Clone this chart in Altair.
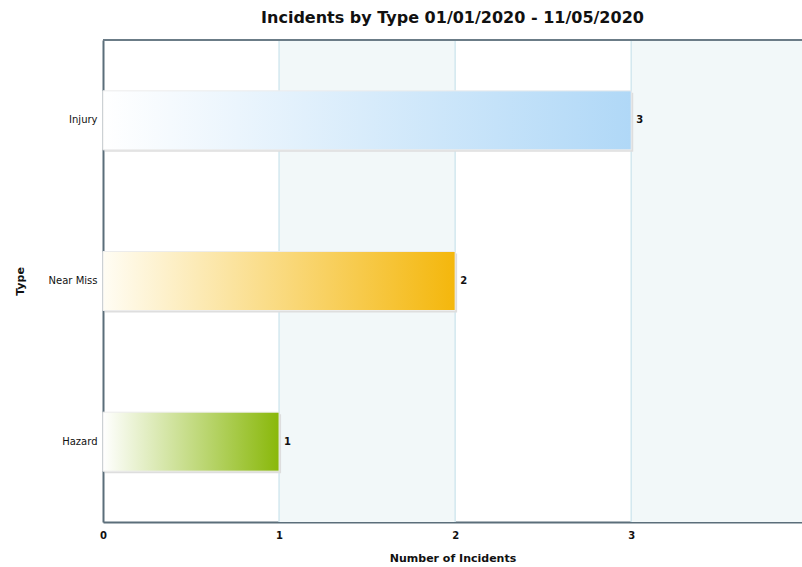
import altair as alt
import pandas as pd

# ---- data ----
types = ["Injury", "Near Miss", "Hazard"]
counts = [3, 2, 1]
grad_start = ["#ffffff", "#fffdf4", "#ffffff"]
grad_end = ["#b0d8f7", "#f4b70c", "#89b80a"]
tick_values = [0, 1, 2, 3]
band_starts = [1, 3]
band_ends = [2, 4]
grid_values = [1, 2, 3]

FONT = "DejaVu Sans"
PLOT_W, PLOT_H = 699, 482

df = pd.DataFrame({"Type": types, "Count": counts})
bands = pd.DataFrame({"start": band_starts, "end": band_ends})
grid = pd.DataFrame({"v": grid_values})

x_scale = alt.Scale(domain=[0, 3.97], nice=False, zero=True)
y_scale = alt.Scale(domain=types, paddingInner=0, paddingOuter=0)

x_axis = alt.Axis(values=tick_values, grid=False, ticks=False, domain=True,
                  domainColor="#5b6e7a", domainWidth=2, labelFont=FONT,
                  labelFontSize=10, labelFontWeight="bold", labelColor="#111",
                  labelPadding=8, labelFlush=False, titleFont=FONT, titleFontSize=11,
                  titleFontWeight="bold", titleColor="#111", titlePadding=12)
y_axis = alt.Axis(grid=False, ticks=False, domain=True, domainColor="#5b6e7a",
                  domainWidth=2, labelFont=FONT, labelFontSize=10,
                  labelColor="#111", labelPadding=6, titleFont=FONT,
                  titleFontSize=11, titleFontWeight="bold", titleColor="#111",
                  titleX=-78, titleY=PLOT_H / 2)

band_layer = alt.Chart(bands).mark_rect(color="#f2f8f9", clip=True).encode(
    x=alt.X("start:Q", scale=x_scale, axis=x_axis, title="Number of Incidents"),
    x2="end:Q",
    y=alt.value(0),
    y2=alt.value(PLOT_H),
)

grid_layer = alt.Chart(grid).mark_rule(color="#d3e8ef", strokeWidth=1.5).encode(
    x=alt.X("v:Q", scale=x_scale, axis=x_axis, title="Number of Incidents"),
    y=alt.value(0),
    y2=alt.value(PLOT_H),
)

top_border = alt.Chart(grid).mark_rule(color="#6b7c87", strokeWidth=2).encode(
    x=alt.value(0),
    x2=alt.value(PLOT_W),
    y=alt.value(0),
)

shadow_layer = alt.Chart(df).mark_bar(size=59, color="#dedede", xOffset=2, yOffset=2).encode(
    x=alt.X("Count:Q", scale=x_scale, axis=x_axis, title="Number of Incidents"),
    y=alt.Y("Type:N", scale=y_scale, axis=y_axis, title="Type", sort=types),
)

bar_layers = []
for t, s, e in zip(types, grad_start, grad_end):
    grad = alt.LinearGradient(
        gradient="linear",
        stops=[alt.GradientStop(color=s, offset=0), alt.GradientStop(color=e, offset=1)],
        x1=0, x2=1, y1=0, y2=0,
    )
    bar_layers.append(
        alt.Chart(df).transform_filter(alt.datum.Type == t)
        .mark_bar(size=59, color=grad, stroke="#ececec", strokeWidth=1)
        .encode(
            x=alt.X("Count:Q", scale=x_scale, axis=x_axis, title="Number of Incidents"),
            y=alt.Y("Type:N", scale=y_scale, axis=y_axis, title="Type", sort=types),
        )
    )

text_layer = alt.Chart(df).mark_text(align="left", dx=5, font=FONT, fontSize=10,
                                     fontWeight="bold", color="#111").encode(
    x=alt.X("Count:Q", scale=x_scale, axis=x_axis, title="Number of Incidents"),
    y=alt.Y("Type:N", scale=y_scale, axis=y_axis, title="Type", sort=types),
    text="Count:Q",
)

chart = alt.layer(band_layer, grid_layer, top_border, shadow_layer, *bar_layers, text_layer).properties(
    width=PLOT_W,
    height=PLOT_H,
    title=alt.TitleParams("Incidents by Type 01/01/2020 - 11/05/2020", font=FONT,
                          fontSize=16, fontWeight="bold", color="#111",
                          anchor="middle", offset=13),
    autosize=alt.AutoSizeParams(type="none"),
    padding={"left": 103, "top": 40, "right": 0, "bottom": 45},
).configure_view(stroke="#6b7c87", strokeWidth=2).configure(background="white")

chart.save("out.html", embed_options={"renderer": "svg", "actions": False})
